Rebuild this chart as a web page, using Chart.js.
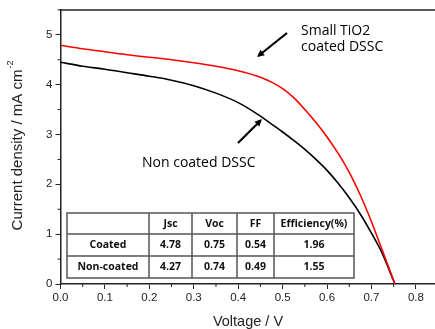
<!DOCTYPE html>
<html>
<head>
<meta charset="utf-8">
<script src="https://cdn.jsdelivr.net/npm/chart.js@4.4.1/dist/chart.umd.min.js"></script>
<style>
  html, body { margin: 0; padding: 0; background: #fff; }
  #wrap { width: 435px; height: 329px; }
</style>
</head>
<body>
<div id="wrap"><canvas id="jvChart" width="435" height="329"></canvas></div>
<script>
// J-V curves, voltage in V, current density in mA cm^-2
const voltage = [0, 0.05, 0.1, 0.15, 0.2, 0.25, 0.3, 0.35, 0.4, 0.45, 0.475, 0.5, 0.525, 0.55, 0.575, 0.6, 0.625, 0.65, 0.675, 0.7, 0.725, 0.75, 0.753];
const coatedJ = [4.79, 4.72, 4.66, 4.60, 4.55, 4.50, 4.44, 4.37, 4.28, 4.15, 4.05, 3.92, 3.74, 3.50, 3.24, 2.95, 2.62, 2.24, 1.78, 1.25, 0.66, 0.07, 0];
const nonCoatedJ = [4.45, 4.37, 4.31, 4.24, 4.17, 4.09, 3.98, 3.83, 3.64, 3.37, 3.21, 3.05, 2.88, 2.70, 2.50, 2.28, 2.02, 1.73, 1.40, 1.02, 0.60, 0.06, 0];

const xTicks = [0, 0.1, 0.2, 0.3, 0.4, 0.5, 0.6, 0.7, 0.8];
const yTicks = [0, 1, 2, 3, 4, 5];

const tableHeader = ['', 'Jsc', 'Voc', 'FF', 'Efficiency(%)'];
const tableRows = [
  ['Coated', '4.78', '0.75', '0.54', '1.96'],
  ['Non-coated', '4.27', '0.74', '0.49', '1.55']
];

const coatedLabel = ['Small TiO2', 'coated DSSC'];
const nonCoatedLabel = 'Non coated DSSC';

const sansFont = 'Arial, "Liberation Sans", sans-serif';

function toPoints(xs, ys) {
  return xs.map((v, i) => ({ x: v, y: ys[i] }));
}

function arrow(ctx, x1, y1, x2, y2) {
  const a = Math.atan2(y2 - y1, x2 - x1);
  const h = 8;
  ctx.beginPath();
  ctx.moveTo(x1, y1);
  ctx.lineTo(x2 - Math.cos(a) * 2, y2 - Math.sin(a) * 2);
  ctx.stroke();
  ctx.beginPath();
  ctx.moveTo(x2, y2);
  ctx.lineTo(x2 - h * Math.cos(a - 0.45), y2 - h * Math.sin(a - 0.45));
  ctx.lineTo(x2 - h * Math.cos(a + 0.45), y2 - h * Math.sin(a + 0.45));
  ctx.closePath();
  ctx.fill();
}

const extras = {
  id: 'extras',
  afterDraw(chart) {
    const ctx = chart.ctx;
    const area = chart.chartArea;
    const xs = chart.scales.x, ys = chart.scales.y;
    ctx.save();

    // top frame line
    ctx.strokeStyle = '#222';
    ctx.lineWidth = 1.5;
    ctx.beginPath();
    ctx.moveTo(area.left, area.top);
    ctx.lineTo(chart.width, area.top);
    ctx.stroke();

    // minor ticks
    ctx.lineWidth = 1;
    ctx.beginPath();
    for (let i = 0; i < xTicks.length; i++) {
      const px = xs.getPixelForValue(xTicks[i] + 0.05);
      if (px > chart.width) continue;
      ctx.moveTo(px, area.bottom);
      ctx.lineTo(px, area.bottom + 3);
    }
    for (let i = 0; i < yTicks.length; i++) {
      const py = ys.getPixelForValue(yTicks[i] + 0.5);
      ctx.moveTo(area.left, py);
      ctx.lineTo(area.left - 3, py);
    }
    ctx.stroke();

    // axis titles
    ctx.fillStyle = '#222';
    ctx.font = '14.5px ' + sansFont;
    ctx.textAlign = 'center';
    ctx.textBaseline = 'alphabetic';
    ctx.fillText('Voltage / V', 248, 326);

    ctx.save();
    ctx.translate(22, 146);
    ctx.rotate(-Math.PI / 2);
    const main = 'Current density / mA cm';
    ctx.font = '15px ' + sansFont;
    const wMain = ctx.measureText(main).width;
    ctx.font = '9px ' + sansFont;
    const wSup = ctx.measureText('-2').width;
    const start = -(wMain + wSup) / 2;
    ctx.textAlign = 'left';
    ctx.font = '15px ' + sansFont;
    ctx.fillText(main, start, 0);
    ctx.font = '9px ' + sansFont;
    ctx.fillText('-2', start + wMain + 1, -9);
    ctx.restore();

    // annotations
    ctx.fillStyle = '#000';
    ctx.font = '14px "Open Sans", sans-serif';
    ctx.textAlign = 'left';
    ctx.fillText(coatedLabel[0], 301, 35);
    ctx.fillText(coatedLabel[1], 301, 51);
    ctx.fillText(nonCoatedLabel, 142, 167);
    ctx.strokeStyle = '#000';
    ctx.lineWidth = 2.2;
    arrow(ctx, 287, 33, 257, 57);
    arrow(ctx, 238, 143, 262, 119);

    // table
    const colX = [67, 149, 192, 237, 274, 354];
    const rowY = [213, 234, 256, 278];
    ctx.fillStyle = '#fff';
    ctx.fillRect(colX[0], rowY[0], colX[5] - colX[0], rowY[3] - rowY[0]);
    ctx.strokeStyle = '#555';
    ctx.lineWidth = 1.5;
    ctx.strokeRect(colX[0], rowY[0], colX[5] - colX[0], rowY[3] - rowY[0]);
    ctx.beginPath();
    for (let i = 1; i < colX.length - 1; i++) {
      ctx.moveTo(colX[i], rowY[0]);
      ctx.lineTo(colX[i], rowY[3]);
    }
    for (let j = 1; j < rowY.length - 1; j++) {
      ctx.moveTo(colX[0], rowY[j]);
      ctx.lineTo(colX[5], rowY[j]);
    }
    ctx.stroke();

    ctx.fillStyle = '#111';
    ctx.font = 'bold 10.5px "Open Sans", sans-serif';
    ctx.textAlign = 'center';
    ctx.textBaseline = 'middle';
    const rows = [tableHeader].concat(tableRows);
    rows.forEach((r, j) => {
      const cy = (rowY[j] + rowY[j + 1]) / 2 + 0.5;
      r.forEach((cell, i) => {
        const cx = (colX[i] + colX[i + 1]) / 2;
        ctx.fillText(cell, cx, cy);
      });
    });

    ctx.restore();
  }
};

const tickFont = { family: sansFont, size: 11.5 };

new Chart(document.getElementById('jvChart'), {
  type: 'line',
  data: {
    datasets: [
      {
        label: 'Small TiO2 coated DSSC',
        data: toPoints(voltage, coatedJ),
        borderColor: '#ff0000',
        borderWidth: 1.6,
        pointRadius: 0,
        cubicInterpolationMode: 'monotone',
        fill: false
      },
      {
        label: 'Non coated DSSC',
        data: toPoints(voltage, nonCoatedJ),
        borderColor: '#000000',
        borderWidth: 1.6,
        pointRadius: 0,
        cubicInterpolationMode: 'monotone',
        fill: false
      }
    ]
  },
  options: {
    responsive: false,
    animation: false,
    devicePixelRatio: 1,
    layout: { padding: { top: 9, right: 0, left: 0, bottom: 0 } },
    plugins: { legend: { display: false }, tooltip: { enabled: false } },
    scales: {
      x: {
        type: 'linear',
        min: 0,
        max: 0.843,
        afterBuildTicks: s => { s.ticks = xTicks.map(v => ({ value: v })); },
        afterFit: s => { s.height = 45; },
        grid: { drawOnChartArea: false, tickLength: 5, tickColor: '#222', tickWidth: 1 },
        border: { color: '#222', width: 1.5 },
        ticks: { font: tickFont, color: '#222', padding: 2, maxRotation: 0, callback: v => v.toFixed(1) }
      },
      y: {
        type: 'linear',
        min: 0,
        max: 5.5,
        afterBuildTicks: s => { s.ticks = yTicks.map(v => ({ value: v })); },
        afterFit: s => { s.width = 60.5; },
        grid: { drawOnChartArea: false, tickLength: 5, tickColor: '#222', tickWidth: 1 },
        border: { color: '#222', width: 1.5 },
        ticks: { font: tickFont, color: '#222', padding: 3, callback: v => String(v) }
      }
    }
  },
  plugins: [extras]
});
</script>
</body>
</html>
